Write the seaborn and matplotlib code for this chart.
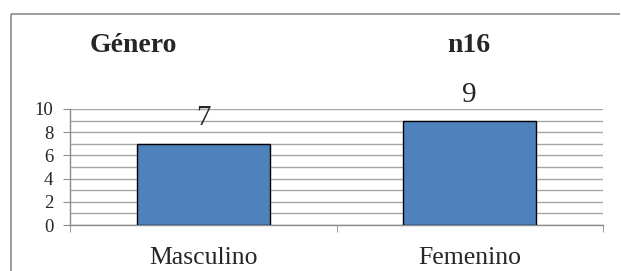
import matplotlib
matplotlib.use("Agg")
import matplotlib.pyplot as plt
import seaborn as sns
import pandas as pd
from matplotlib.lines import Line2D
from matplotlib.ticker import MultipleLocator

# datos
categorias = ["Masculino", "Femenino"]
valores = [7, 9]
titulo = "Género"
total = "n16"

df = pd.DataFrame({"genero": categorias, "n": valores})

sns.set_style("white")
plt.rcParams["font.family"] = ["Liberation Serif", "DejaVu Serif"]

fig = plt.figure(figsize=(6.21, 2.71), dpi=100)
ax = fig.add_axes([70 / 621, 1 - 225 / 271, 533 / 621, 116 / 271])

sns.barplot(data=df, x="genero", y="n", color="#4f81bd", width=0.5,
            edgecolor="black", linewidth=1, saturation=1, ax=ax, zorder=3)

ax.set_ylim(0, 10)
ax.set_xlim(-0.5, 1.5)
ax.yaxis.set_major_locator(MultipleLocator(2))
ax.yaxis.set_minor_locator(MultipleLocator(1))
ax.grid(True, axis="y", which="both", color="#a6a6a6", linewidth=1, zorder=0)
ax.set_axisbelow(True)

for s in ["top", "right"]:
    ax.spines[s].set_visible(False)
for s in ["left", "bottom"]:
    ax.spines[s].set_color("#8c8c8c")
    ax.spines[s].set_linewidth(1)

ax.tick_params(axis="y", which="major", left=True, length=5, color="#8c8c8c",
               labelsize=13.5, pad=7)
ax.tick_params(axis="y", which="minor", left=False)
ax.set_xticks([0, 1])
ax.set_xticklabels(categorias)
ax.set_xticks([-0.5, 0.5, 1.5], minor=True)
ax.tick_params(axis="x", which="major", bottom=False, labelsize=18.5, pad=12)
ax.tick_params(axis="x", which="minor", bottom=True, length=5, color="#8c8c8c")
ax.set_xlabel("")
ax.set_ylabel("")

for i, v in enumerate(valores):
    ax.annotate(str(v), (i, v), xytext=(0, 9), textcoords="offset points",
                ha="center", va="bottom", fontsize=21)

fig.text(90 / 621, 1 - 46 / 271, titulo, fontsize=20, fontweight="bold", va="center")
fig.text(447 / 621, 1 - 46 / 271, total, fontsize=20, fontweight="bold", va="center")

# marco del gráfico (solo borde superior e izquierdo visibles)
x0, y0 = 10.5 / 621, 1 - 13.5 / 271
fig.add_artist(Line2D([x0, 620 / 621], [y0, y0], transform=fig.transFigure,
                      color="#8c8c8c", linewidth=1.2, solid_capstyle="butt"))
fig.add_artist(Line2D([x0, x0], [0.0, y0], transform=fig.transFigure,
                      color="#8c8c8c", linewidth=1.2, solid_capstyle="butt"))

fig.savefig("out.png", dpi=100)
